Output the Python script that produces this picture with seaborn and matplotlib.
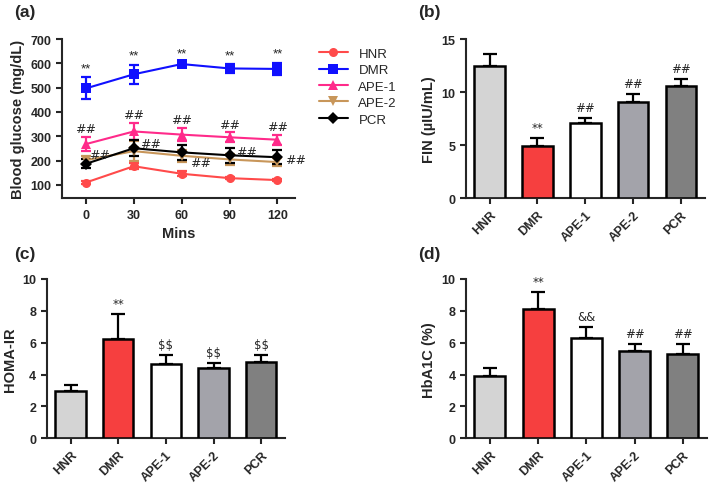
import numpy as np
import pandas as pd
import seaborn as sns
import matplotlib.pyplot as plt

sns.set_style("ticks")
plt.rcParams['font.family'] = ['Liberation Sans', 'DejaVu Sans']
plt.rcParams['font.weight'] = 'bold'
plt.rcParams['axes.linewidth'] = 1.5

groups = ['HNR', 'DMR', 'APE-1', 'APE-2', 'PCR']
mins = [0, 30, 60, 90, 120]

# blood glucose (mg/dL) over time, mean and SD
glu_hnr = [110, 177, 146, 128, 120]
glu_hnr_err = [5, 12, 10, 5, 5]
glu_dmr = [497, 555, 597, 579, 577]
glu_dmr_err = [45, 40, 5, 18, 25]
glu_ape1 = [268, 320, 307, 296, 286]
glu_ape1_err = [30, 36, 28, 20, 20]
glu_ape2 = [202, 239, 220, 205, 194]
glu_ape2_err = [15, 40, 25, 22, 15]
glu_pcr = [187, 251, 234, 222, 214]
glu_pcr_err = [18, 34, 30, 30, 28]

line_colors = ['#ff4a4a', '#1010ff', '#ff2a8a', '#c8965a', '#000000']
line_markers = ['o', 's', '^', 'v', 'D']

# bar panels
fin_mean = [12.5, 4.95, 7.1, 9.1, 10.55]
fin_err = [1.1, 0.7, 0.5, 0.7, 0.7]
fin_marks = ['', '**', '##', '##', '##']

homa_mean = [3.0, 6.25, 4.65, 4.4, 4.8]
homa_err = [0.35, 1.55, 0.6, 0.32, 0.42]
homa_marks = ['', '**', '$$', '$$', '$$']

hba1c_mean = [3.88, 8.1, 6.3, 5.47, 5.27]
hba1c_err = [0.55, 1.1, 0.68, 0.48, 0.68]
hba1c_marks = ['', '**', '&&', '##', '##']

bar_colors = ['#d4d4d4', '#f63f3f', '#ffffff', '#a3a3aa', '#808080']

fig = plt.figure(figsize=(7.09, 4.85), dpi=100)

# ---- (a) line chart
ax = fig.add_axes([0.0874, 0.589, 0.3286, 0.3285])
series = [glu_hnr, glu_dmr, glu_ape1, glu_ape2, glu_pcr]
errs = [glu_hnr_err, glu_dmr_err, glu_ape1_err, glu_ape2_err, glu_pcr_err]
df = pd.DataFrame({
    'Mins': mins * 5,
    'glucose': sum(series, []),
    'group': np.repeat(groups, 5),
})
for g, vals, e, c in zip(groups, series, errs, line_colors):
    ax.errorbar(mins, vals, yerr=e, fmt='none', ecolor=c, elinewidth=1.6,
                capsize=3.5, capthick=1.6, zorder=2)
sns.lineplot(data=df, x='Mins', y='glucose', hue='group', style='group',
             palette=dict(zip(groups, line_colors)),
             markers=dict(zip(groups, line_markers)), dashes=False,
             markersize=6.5, markeredgewidth=0, linewidth=1.5, ax=ax, zorder=3)
ax.set_xlim(-15, 131)
ax.set_ylim(45, 700)
ax.set_xticks(mins)
ax.set_yticks(range(100, 701, 100))
ax.set_xlabel('Mins', fontsize=10.5, fontweight='bold')
ax.set_ylabel('Blood glucose (mg/dL)', fontsize=10.5, fontweight='bold')
ax.tick_params(labelsize=9, width=1.5, length=4)
for sp in ['top', 'right']:
    ax.spines[sp].set_visible(False)
for i, x in enumerate(mins):
    ax.text(x, glu_dmr[i] + glu_dmr_err[i] + 12, '**', ha='center', va='bottom',
            fontsize=9.5, fontweight='normal')
    ax.text(x, glu_ape1[i] + glu_ape1_err[i] + 6, '##', ha='center', va='bottom',
            fontsize=9, fontweight='normal', family='DejaVu Sans')
pcr_hash_dx = [2, 4, 5, 4, 5]
pcr_hash_dy = [38, 20, -42, 14, -8]
for i, x in enumerate(mins):
    ax.text(x + pcr_hash_dx[i], glu_pcr[i] + pcr_hash_dy[i], '##', ha='left', va='center',
            fontsize=9, fontweight='normal', family='DejaVu Sans')
handles, labels = ax.get_legend_handles_labels()
ax.legend(handles, labels, loc='upper left', bbox_to_anchor=(1.08, 0.98), frameon=False,
          prop={'weight': 'normal', 'size': 9.5}, handlelength=2.2,
          labelspacing=0.32, borderaxespad=0)

# ---- bar panels
def bar_panel(rect, mean, err, marks, ylabel, ylim, yticks):
    bx = fig.add_axes(rect)
    bdf = pd.DataFrame({'group': groups, 'value': mean})
    sns.barplot(data=bdf, x='group', y='value', hue='group', palette=bar_colors,
                saturation=1, legend=False, edgecolor='black', linewidth=1.8,
                width=0.64, ax=bx, zorder=3)
    bx.errorbar(range(5), mean, yerr=[np.zeros(5), err], fmt='none', ecolor='black',
                elinewidth=1.6, capsize=5, capthick=1.6, zorder=2)
    for i, m in enumerate(marks):
        if m:
            bx.text(i, mean[i] + err[i] + ylim[1] * 0.025, m, ha='center', va='bottom',
                    fontsize=8.5, fontweight='normal', family='DejaVu Sans',
                    parse_math=False)
    bx.set_xlim(-0.5, 4.5)
    bx.set_ylim(*ylim)
    bx.set_yticks(yticks)
    bx.set_xlabel('')
    bx.set_ylabel(ylabel, fontsize=10.5, fontweight='bold')
    bx.tick_params(labelsize=9, width=1.5, length=4)
    bx.tick_params(axis='x', rotation=45)
    for lab in bx.get_xticklabels():
        lab.set_ha('right')
        lab.set_rotation_mode('anchor')
    for sp in ['top', 'right']:
        bx.spines[sp].set_visible(False)
    return bx

bar_panel([0.657, 0.589, 0.337, 0.3285], fin_mean, fin_err, fin_marks,
          'FIN (µIU/mL)', (0, 15), [0, 5, 10, 15])
bar_panel([0.0659, 0.0942, 0.3361, 0.3285], homa_mean, homa_err, homa_marks,
          'HOMA-IR', (0, 10), [0, 2, 4, 6, 8, 10])
bar_panel([0.657, 0.0942, 0.340, 0.3285], hba1c_mean, hba1c_err, hba1c_marks,
          'HbA1C (%)', (0, 10), [0, 2, 4, 6, 8, 10])

for txt, x, y in [('(a)', 14, 13), ('(b)', 418, 13), ('(c)', 14, 255), ('(d)', 418, 255)]:
    fig.text(x / 709, 1 - y / 485, txt, fontsize=12.5, fontweight='bold', va='center', ha='left')

fig.savefig('out.png', dpi=100)
